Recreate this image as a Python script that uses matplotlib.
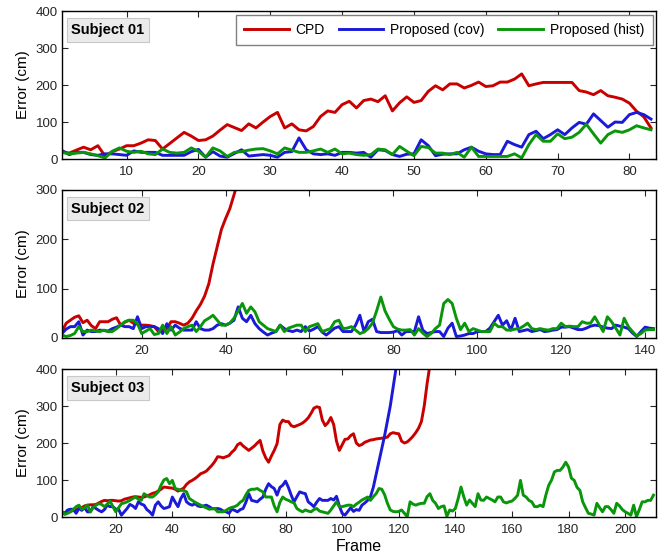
import numpy as np
import matplotlib
matplotlib.use('Agg')
import matplotlib.pyplot as plt

plt.rcParams.update({
    'font.family': 'Liberation Sans',
    'font.size': 10,
    'xtick.direction': 'in', 'ytick.direction': 'in',
    'xtick.top': True, 'ytick.right': True,
    'xtick.major.size': 4, 'ytick.major.size': 4,
    'xtick.labelsize': 9.5, 'ytick.labelsize': 9.5,
    'axes.linewidth': 1.0,
})

# ---- subject 01 (frames 1..83) ----
s1_cpd = [20, 16, 24, 32, 25, 36, 8, 20, 27, 36,
          36, 43, 52, 50, 27, 42, 57, 72, 62, 50,
          52, 62, 78, 93, 85, 77, 95, 84, 100, 115,
          126, 84, 95, 79, 76, 88, 115, 130, 126, 147,
          156, 138, 158, 162, 155, 171, 130, 152, 168, 153,
          158, 183, 198, 187, 203, 203, 192, 199, 208, 196,
          198, 208, 208, 216, 230, 198, 203, 207, 207, 207,
          207, 207, 185, 181, 174, 185, 171, 167, 162, 151,
          129, 114, 84]
s1_cov = [23, 12, 18, 18, 12, 10, 14, 14, 12, 10,
          22, 18, 18, 18, 10, 10, 10, 10, 20, 26,
          5, 20, 8, 5, 15, 25, 8, 10, 12, 10,
          5, 18, 20, 57, 25, 14, 12, 14, 10, 18,
          18, 16, 18, 5, 25, 23, 12, 7, 13, 14,
          52, 36, 9, 13, 14, 14, 25, 32, 21, 14,
          12, 12, 48, 39, 32, 66, 75, 55, 66, 79,
          66, 84, 99, 94, 122, 104, 86, 100, 99, 120,
          126, 120, 108]
s1_hist = [18, 14, 16, 18, 14, 9, 3, 21, 30, 21,
           18, 21, 14, 12, 27, 18, 16, 18, 30, 21,
           5, 30, 22, 7, 18, 20, 24, 27, 28, 22,
           14, 30, 24, 18, 18, 22, 27, 18, 27, 14,
           16, 12, 10, 12, 27, 25, 12, 34, 21, 9,
           34, 31, 16, 16, 12, 18, 5, 32, 7, 7,
           7, 7, 7, 14, 3, 39, 66, 48, 48, 68,
           55, 59, 72, 94, 68, 43, 66, 76, 72, 79,
           90, 84, 79]

# ---- subject 02 (frames 1..142, CPD diverges after frame 42) ----
s2_cpd = [13, 30, 36, 42, 45, 31, 36, 25, 19, 33,
          33, 33, 38, 41, 26, 32, 36, 30, 28, 26,
          26, 25, 23, 13, 17, 19, 33, 33, 30, 26,
          30, 40, 55, 68, 85, 110, 150, 185, 220, 242,
          262, 290, 320, 350]
s2_cov = [9, 18, 23, 23, 33, 6, 16, 13, 13, 16,
          15, 14, 19, 22, 26, 23, 23, 19, 43, 19,
          23, 23, 23, 19, 9, 29, 16, 26, 20, 16,
          16, 16, 33, 19, 16, 16, 19, 26, 29, 26,
          30, 36, 63, 40, 33, 46, 29, 19, 12, 6,
          10, 13, 26, 19, 15, 13, 16, 13, 23, 14,
          18, 23, 12, 6, 13, 20, 23, 13, 13, 13,
          26, 46, 13, 33, 38, 13, 11, 11, 11, 12,
          15, 6, 13, 13, 13, 43, 16, 9, 11, 13,
          13, 3, 20, 30, 3, 4, 6, 9, 9, 13,
          13, 13, 20, 33, 46, 26, 35, 16, 40, 13,
          15, 17, 13, 15, 17, 13, 14, 16, 17, 22,
          22, 23, 20, 17, 17, 20, 24, 26, 25, 22,
          20, 19, 26, 24, 22, 19, 10, 3, 13, 22, 20, 19]
s2_hist = [6, 3, 5, 9, 23, 13, 13, 16, 14, 13,
           16, 13, 13, 19, 26, 33, 36, 36, 29, 9,
           14, 19, 7, 9, 26, 9, 23, 6, 12, 19,
           23, 26, 13, 23, 35, 40, 46, 36, 26, 26,
           30, 40, 55, 70, 50, 63, 53, 33, 26, 19,
           16, 13, 26, 13, 20, 23, 26, 26, 13, 23,
           26, 29, 13, 16, 19, 33, 36, 19, 20, 23,
           16, 9, 12, 19, 30, 55, 83, 55, 38, 23,
           18, 16, 16, 17, 6, 19, 10, 3, 9, 19,
           26, 70, 78, 70, 40, 17, 30, 13, 19, 16,
           13, 13, 13, 30, 23, 23, 16, 16, 18, 19,
           24, 30, 19, 17, 19, 17, 16, 19, 19, 30,
           23, 24, 23, 23, 33, 30, 30, 43, 28, 13,
           43, 33, 20, 6, 40, 23, 13, 4, 9, 16, 17, 17]

# ---- subject 03 (frames 1..210, CPD and cov diverge) ----
s3_cpd = [10, 11, 14, 15, 18, 20, 23, 25, 30, 32,
          33, 33, 34, 38, 42, 45, 44, 45, 45, 44,
          43, 44, 48, 50, 52, 54, 55, 54, 53, 54,
          57, 60, 64, 66, 70, 75, 81, 80, 79, 78,
          75, 70, 74, 78, 88, 95, 99, 104, 110, 117,
          120, 124, 132, 140, 150, 163, 162, 160, 163, 166,
          175, 182, 195, 200, 192, 186, 180, 186, 192, 200,
          207, 178, 160, 148, 165, 180, 198, 250, 262, 258,
          258, 247, 244, 247, 250, 254, 260, 268, 280, 294,
          298, 296, 262, 247, 255, 269, 250, 205, 180, 195,
          210, 211, 220, 225, 200, 193, 196, 202, 205, 208,
          209, 211, 212, 213, 214, 216, 225, 228, 226, 225,
          205, 200, 203, 210, 218, 228, 240, 258, 300, 360,
          410, 460]
s3_cov = [14, 10, 19, 21, 21, 10, 23, 18, 25, 14,
          14, 28, 23, 18, 14, 20, 32, 28, 28, 21,
          21, 5, 14, 23, 34, 30, 23, 41, 35, 32,
          20, 14, 5, 32, 41, 30, 23, 25, 28, 54,
          40, 28, 50, 63, 41, 35, 32, 36, 30, 28,
          30, 32, 28, 23, 22, 23, 21, 16, 14, 10,
          21, 18, 14, 20, 23, 40, 63, 45, 43, 41,
          48, 54, 75, 90, 82, 77, 59, 80, 86, 97,
          80, 59, 41, 55, 68, 65, 63, 41, 35, 28,
          40, 50, 45, 45, 45, 50, 46, 56, 30, 10,
          5, 15, 25, 15, 20, 18, 32, 38, 45, 55,
          80, 115, 150, 185, 220, 260, 300, 350, 400, 440]
s3_hist = [14, 7, 10, 14, 20, 28, 32, 21, 25, 32,
           14, 25, 32, 36, 34, 28, 35, 43, 28, 14,
           25, 36, 38, 41, 45, 50, 54, 48, 45, 63,
           58, 54, 54, 60, 68, 86, 100, 104, 90, 99,
           77, 75, 72, 72, 68, 50, 45, 40, 36, 32,
           28, 25, 21, 22, 23, 14, 14, 14, 18, 23,
           26, 28, 32, 40, 45, 60, 72, 75, 75, 77,
           72, 68, 54, 54, 54, 30, 14, 40, 54, 48,
           45, 41, 38, 23, 18, 14, 19, 16, 14, 20,
           23, 16, 14, 12, 10, 19, 30, 41, 28, 28,
           30, 32, 32, 28, 35, 40, 46, 50, 54, 45,
           55, 63, 77, 75, 60, 37, 19, 15, 14, 15,
           19, 10, 1, 41, 35, 32, 35, 37, 37, 55,
           63, 45, 37, 23, 28, 30, 2, 19, 16, 23,
           50, 81, 54, 32, 46, 37, 28, 63, 46, 45,
           54, 50, 46, 41, 54, 54, 41, 38, 41, 43,
           50, 59, 99, 59, 54, 45, 41, 28, 28, 32,
           28, 60, 86, 100, 122, 126, 126, 135, 148, 135,
           105, 99, 80, 72, 41, 25, 10, 8, 5, 37,
           25, 14, 28, 28, 20, 10, 37, 30, 20, 14,
           10, 5, 32, 1, 20, 41, 41, 45, 45, 59]

subjects = ["Subject 01", "Subject 02", "Subject 03"]
series_labels = ["CPD", "Proposed (cov)", "Proposed (hist)"]
colors = ['#c80000', '#1a1ad8', '#0a960a']

panels = [
    (s1_cpd, s1_cov, s1_hist, 83.7, 400, np.arange(10, 81, 10)),
    (s2_cpd, s2_cov, s2_hist, 142.6, 300, np.arange(20, 141, 20)),
    (s3_cpd, s3_cov, s3_hist, 210.9, 400, np.arange(20, 201, 20)),
]

fig = plt.figure(figsize=(6.65, 5.57), dpi=100)
bottoms = [0.7145, 0.3932, 0.0718]
for k, (cpd, cov, hist, xmax, ymax, xt) in enumerate(panels):
    ax = fig.add_axes([0.0932, bottoms[k], 0.8933, 0.2657])
    for vals, c, lab in zip((cpd, cov, hist), colors, series_labels):
        fr = np.arange(1, len(vals) + 1)
        ax.plot(fr, vals, color=c, lw=2.1, label=lab)
    ax.set_xlim(1, xmax)
    ax.set_ylim(0, ymax)
    ax.set_xticks(xt)
    ax.set_yticks(np.arange(0, ymax + 1, 100))
    ax.set_ylabel("Error (cm)", fontsize=11, labelpad=4)
    ax.tick_params(colors='#262626')
    ax.tick_params(axis='x', pad=5)
    ax.tick_params(axis='y', pad=3)
    ax.text(0.016, 0.92, subjects[k], transform=ax.transAxes,
            fontsize=10.5, fontweight='bold', va='top', ha='left',
            bbox=dict(boxstyle='square,pad=0.32', fc='#ebebeb',
                      ec='#c8c8c8', lw=0.8))
    if k == 0:
        leg = ax.legend(loc='upper right', ncol=3, fontsize=10,
                        handlelength=3.2, columnspacing=1.0,
                        handletextpad=0.5, borderpad=0.6,
                        borderaxespad=0.25, fancybox=False,
                        framealpha=1, bbox_to_anchor=(1.0, 1.0))
        leg.get_frame().set_edgecolor('#808080')
    if k == 2:
        ax.set_xlabel("Frame", fontsize=11.5, labelpad=2)

fig.savefig("out.png", dpi=100)
